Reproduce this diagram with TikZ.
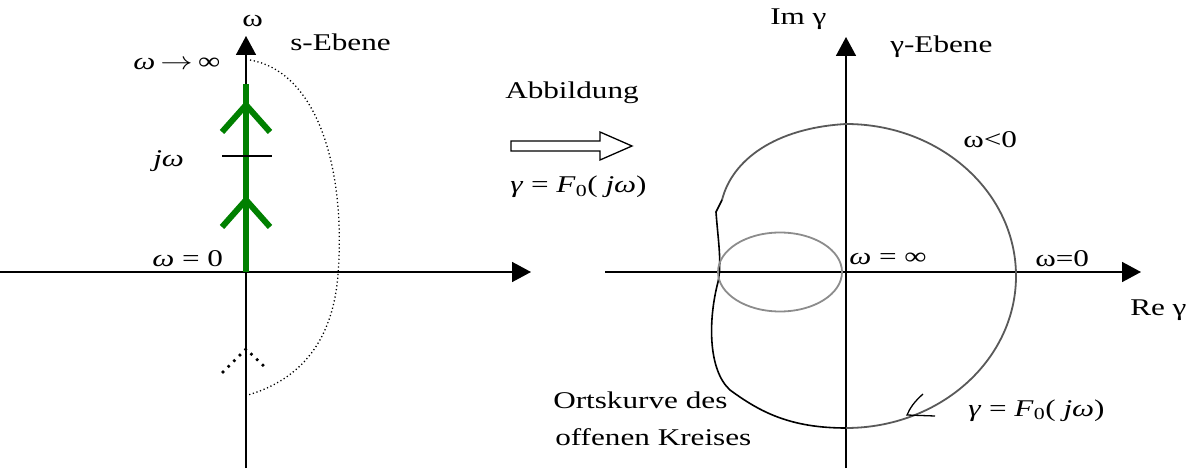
\documentclass[tikz,border=0pt]{standalone}
\usepackage{fontspec}
\setmainfont{Liberation Serif}
\usetikzlibrary{arrows.meta}
\definecolor{darkgreen}{RGB}{0,128,0}

\begin{document}
\begin{tikzpicture}[x=1pt, y=-1pt,
    lbl/.style={font=\fontsize{24}{28}\selectfont, inner sep=0pt, xscale=1.3, anchor=base west},
    axis/.style={line width=1.6pt, -{Triangle[length=19pt,width=20pt]}},
    path/.style={line width=6pt, darkgreen},
    curve/.style={line width=1.8pt, black!65},
    dots/.style={line width=1.3pt, dash pattern=on 1.2pt off 2.6pt}
]
    \useasboundingbox (0,0) rectangle (1196,470);

    % s-Ebene
    \coordinate (sw) at (0,272);
    \coordinate (se) at (531,272);
    \coordinate (ss) at (246,468);
    \coordinate (sn) at (246,36);
    \draw[axis] (sw) -- (se);
    \draw[axis] (ss) -- (sn);

    \coordinate (w0) at (246,272);
    \coordinate (winf) at (246,84);
    \draw[path] (w0) -- (winf);
    \foreach \y in {105,200}
        \draw[path, line cap=butt] (222,\y+27) -- (246,\y) -- (270,\y+27);
    \draw[line width=1.4pt] (222,156) -- (272,156);

    \coordinate (dtop) at (250,60);
    \coordinate (dbot) at (248,395);
    \draw[dots] (dtop) .. controls (318,72) and (346,170) .. (338,275)
        .. controls (332,350) and (292,382) .. (dbot);
    \draw[line width=3.6pt, line cap=round, dash pattern=on 0pt off 8pt]
        (223,372) -- (246,349) -- (268,370);

    \node[lbl] (lomega) at (242,27) {ω};
    \node[lbl] (lsplane) at (290,51) {s-Ebene};
    \node[lbl] (linf) at (133,70) {\textit{ω}\,$\rightarrow$\,∞};
    \node[lbl] (ljw) at (153,167) {\textit{jω}};
    \node[lbl] (lzero) at (152,267) {\textit{ω} = 0};

    % Abbildung
    \node[lbl] (labb) at (505,99) {Abbildung};
    \draw[line width=1.3pt] (511,141) -- (600,141) -- (600,132) -- (632,146)
        -- (600,160) -- (600,151) -- (511,151) -- cycle;
    \node[lbl] (lmap) at (510,193) {\textit{γ} = \textit{F}\textsubscript{0}( \textit{jω})};

    % gamma-Ebene
    \coordinate (gw) at (605,272);
    \coordinate (ge) at (1141,272);
    \coordinate (gs) at (846,468);
    \coordinate (gn) at (846,37);
    \draw[axis] (gw) -- (ge);
    \draw[axis] (gs) -- (gn);

    \coordinate (ctop) at (846,124);
    \coordinate (cbot) at (846,428);
    \coordinate (ckink) at (722,200);
    \draw[curve] (ctop) arc[start angle=90, end angle=-90, x radius=170pt, y radius=152pt];
    \draw[curve] (ckink) .. controls (732,160) and (775,128) .. (ctop);
    \draw[line width=1.6pt] (ckink) -- (716,212) .. controls (718,240) and (722,262) .. (718,282)
        .. controls (708,320) and (708,370) .. (730,390)
        .. controls (760,412) and (790,428) .. (cbot);
    \draw[curve, black!45] (780,272) ellipse [x radius=62pt, y radius=39.5pt];
    \draw[line width=1.3pt] (923,394) .. controls (914,402) and (910,408) .. (907,415) -- (935,416);

    \node[lbl] (lim) at (770,25) {Im γ};
    \node[lbl] (lgplane) at (890,53) {γ-Ebene};
    \node[lbl] (lneg) at (963,148) {ω<0};
    \node[lbl] (lwinf) at (849,265) {\textit{ω} = ∞};
    \node[lbl] (lwzero) at (1035,267) {ω=0};
    \node[lbl] (lre) at (1130,315) {Re γ};
    \node[lbl] (lort) at (553,408) {Ortskurve des};
    \node[lbl] (loff) at (555,445) {offenen Kreises};
    \node[lbl] (lgam) at (968,416) {\textit{γ} = \textit{F}\textsubscript{0}( \textit{jω})};
\end{tikzpicture}
\end{document}
